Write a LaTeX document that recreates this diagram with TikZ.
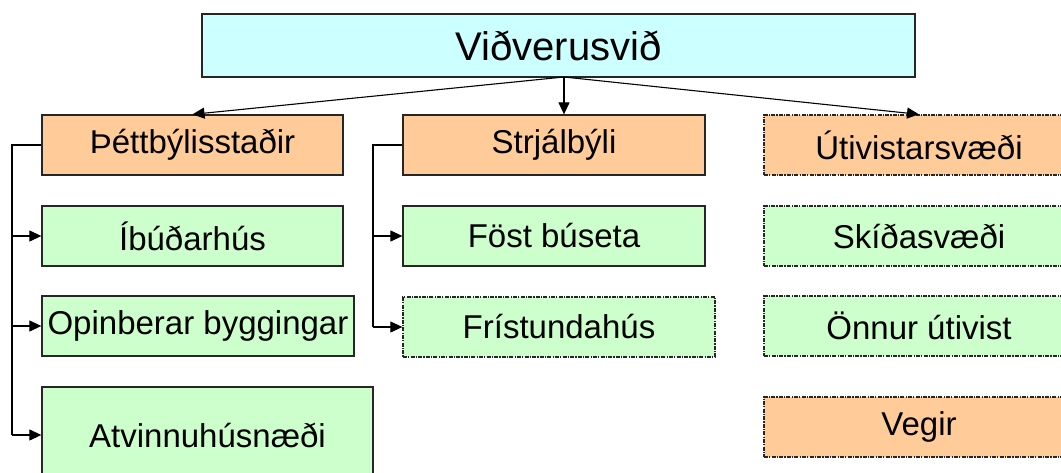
\documentclass[tikz,border=0pt]{standalone}
\usepackage{fontspec}
\setmainfont{Liberation Sans}
\usetikzlibrary{arrows.meta}
\definecolor{cyanfill}{HTML}{CCFFFF}
\definecolor{orangefill}{HTML}{FFCC99}
\definecolor{greenfill}{HTML}{CCFFCC}
\begin{document}
\begin{tikzpicture}[x=1pt,y=-1pt,
  box/.style={draw=black!85, line width=1.3pt, inner sep=0pt, anchor=center,
    font=\fontsize{33}{38}\selectfont},
  solidbox/.style={box},
  dotbox/.style={box, dash pattern=on 4pt off 1.2pt on 1.2pt off 1.2pt},
  catbox/.style={fill=orangefill},
  subbox/.style={fill=greenfill},
  link/.style={line width=1.1pt, -{Triangle[length=12pt,width=11pt]}},
  rail/.style={line width=1.1pt}]
\clip (0,0) rectangle (1061,472);

% root
\node[box, fill=cyanfill, minimum width=713pt, minimum height=63pt,
  font=\fontsize{40}{46}\selectfont] (top) at (558.5,45.5) {Viðverusvið};

% first column
\node[solidbox, catbox, minimum width=301pt, minimum height=60pt] (tb) at (192.5,145) {Þéttbýlisstaðir};
\node[solidbox, subbox, minimum width=301pt, minimum height=60pt] (ib) at (192.5,236) {Íbúðarhús};
\node[solidbox, subbox, minimum width=312pt, minimum height=60pt] (op) at (198,326) {Opinberar byggingar};
\node[solidbox, subbox, minimum width=331pt, minimum height=96pt] (at) at (207.5,435) {Atvinnuhúsnæði};

% second column
\node[solidbox, catbox, minimum width=302pt, minimum height=60pt] (st) at (554,145) {Strjálbýli};
\node[solidbox, subbox, minimum width=302pt, minimum height=60pt] (fb) at (554,236) {Föst búseta};
\node[dotbox, subbox, minimum width=312pt, minimum height=60pt] (fr) at (559,327) {Frístundahús};

% third column
\node[dotbox, catbox, minimum width=310pt, minimum height=60pt] (ut) at (919,145) {Útivistarsvæði};
\node[dotbox, subbox, minimum width=310pt, minimum height=60pt] (sk) at (919,236) {Skíðasvæði};
\node[dotbox, subbox, minimum width=310pt, minimum height=60pt] (on) at (919,326) {Önnur útivist};
\node[dotbox, catbox, minimum width=310pt, minimum height=60pt] (ve) at (919,427) {Vegir};

% root to categories
\coordinate (hub) at (564,77);
\draw[link] (hub) -- (tb.north);
\draw[link] (hub) -- (hub |- st.north);
\draw[link] (hub) -- (ut.north);

% rails down the left of the first two columns
\coordinate (lrail) at (12,0);
\coordinate (mrail) at (373,0);
\draw[rail] (tb.west) -| (lrail |- at.west);
\draw[link] (lrail |- ib.west) -- (ib.west);
\draw[link] (lrail |- op.west) -- (op.west);
\draw[link] (lrail |- at.west) -- (at.west);
\draw[rail] (st.west) -| (mrail |- fr.west);
\draw[link] (mrail |- fb.west) -- (fb.west);
\draw[link] (mrail |- fr.west) -- (fr.west);
\end{tikzpicture}
\end{document}
